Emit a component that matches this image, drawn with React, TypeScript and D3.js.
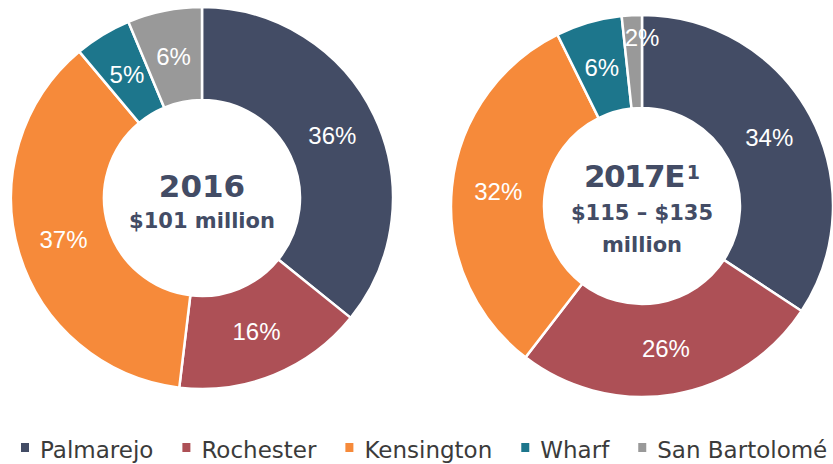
import React, { useRef, useEffect } from 'react';
import * as d3 from 'd3';

const categories = ['Palmarejo', 'Rochester', 'Kensington', 'Wharf', 'San Bartolomé'];
const colors = ['#434c65', '#ad5056', '#f68a3a', '#1d768c', '#999999'];

// share of total, in %
const values2016 = [35.8, 16.1, 37, 4.8, 6.3];
const values2017 = [34.3, 26.2, 32.3, 5.6, 1.7];

const title2016 = '2016';
const sub2016 = ['$101 million'];
const title2017 = '2017E';
const sup2017 = '1';
const sub2017 = ['$115 \u2013 $135', 'million'];

const App = () => {
  const ref = useRef<SVGSVGElement>(null);

  useEffect(() => {
    document.body.style.margin = '0';
    const svg = d3.select(ref.current);
    svg.selectAll('*').remove();

    const outerR = 191;
    const innerR = 98;
    const textColor = '#434c65';

    const pie = d3.pie<number>().sort(null).value(d => d);
    const arc = d3.arc<d3.PieArcDatum<number>>().innerRadius(innerR).outerRadius(outerR);

    const drawDonut = (values: number[], cx: number, cy: number) => {
      const g = svg.append('g').attr('transform', `translate(${cx},${cy})`);
      const arcs = pie(values);

      g.selectAll('path.slice')
        .data(arcs)
        .join('path')
        .attr('class', 'slice')
        .attr('d', arc)
        .attr('fill', (d, i) => colors[i])
        .attr('stroke', '#fff')
        .attr('stroke-width', 2.5);

      g.selectAll('text.pct')
        .data(arcs)
        .join('text')
        .attr('class', 'pct')
        .attr('transform', d => {
          // tiny slices get pushed out toward the rim like Excel does
          if (d.value < 3) {
            const a = d.endAngle;
            const r = outerR - 22;
            return `translate(${Math.sin(a) * r},${-Math.cos(a) * r})`;
          }
          const [x, y] = arc.centroid(d);
          return `translate(${x},${y})`;
        })
        .attr('text-anchor', 'middle')
        .attr('dy', '0.36em')
        .attr('font-family', '"Liberation Sans", Arial, sans-serif')
        .attr('font-size', 24)
        .attr('fill', '#fff')
        .text(d => `${Math.round(d.value)}%`);

      return g;
    };

    // 2016
    const g1 = drawDonut(values2016, 202, 198);
    g1.append('text')
      .attr('text-anchor', 'middle')
      .attr('y', -1)
      .attr('font-family', '"DejaVu Sans", sans-serif')
      .attr('font-weight', 'bold')
      .attr('font-size', 31)
      .attr('fill', textColor)
      .text(title2016);
    sub2016.forEach((s, i) => {
      g1.append('text')
        .attr('text-anchor', 'middle')
        .attr('y', 30 + i * 32)
        .attr('font-family', '"DejaVu Sans", sans-serif')
        .attr('font-weight', 'bold')
        .attr('font-size', 21)
        .attr('fill', textColor)
        .text(s);
    });

    // 2017E
    const g2 = drawDonut(values2017, 642, 206);
    const t = g2.append('text')
      .attr('text-anchor', 'middle')
      .attr('y', -19)
      .attr('font-family', '"DejaVu Sans", sans-serif')
      .attr('font-weight', 'bold')
      .attr('font-size', 31)
      .attr('letter-spacing', -1.5)
      .attr('fill', textColor);
    t.append('tspan').text(title2017);
    t.append('tspan')
      .attr('font-size', 19)
      .attr('dx', 3)
      .attr('dy', -8)
      .attr('letter-spacing', 0)
      .text(sup2017);
    sub2017.forEach((s, i) => {
      g2.append('text')
        .attr('text-anchor', 'middle')
        .attr('y', 14 + i * 32)
        .attr('font-family', '"DejaVu Sans", sans-serif')
        .attr('font-weight', 'bold')
        .attr('font-size', 21)
        .attr('fill', textColor)
        .text(s);
    });

    // legend
    const legend = svg.append('g').attr('transform', 'translate(21,458)');
    let x = 0;
    categories.forEach((c, i) => {
      const item = legend.append('g').attr('transform', `translate(${x},0)`);
      item.append('rect')
        .attr('x', 0)
        .attr('y', -15)
        .attr('width', 8)
        .attr('height', 9)
        .attr('fill', colors[i]);
      const txt = item.append('text')
        .attr('x', 19)
        .attr('font-family', '"DejaVu Sans", sans-serif')
        .attr('font-size', 23)
        .attr('fill', '#3b3b3b')
        .text(c);
      const w = (txt.node() as SVGTextElement).getComputedTextLength();
      x += 19 + w + 29;
    });
  }, []);

  return <svg ref={ref} width={833} height={464} style={{ display: 'block' }} />;
};

export default App;
